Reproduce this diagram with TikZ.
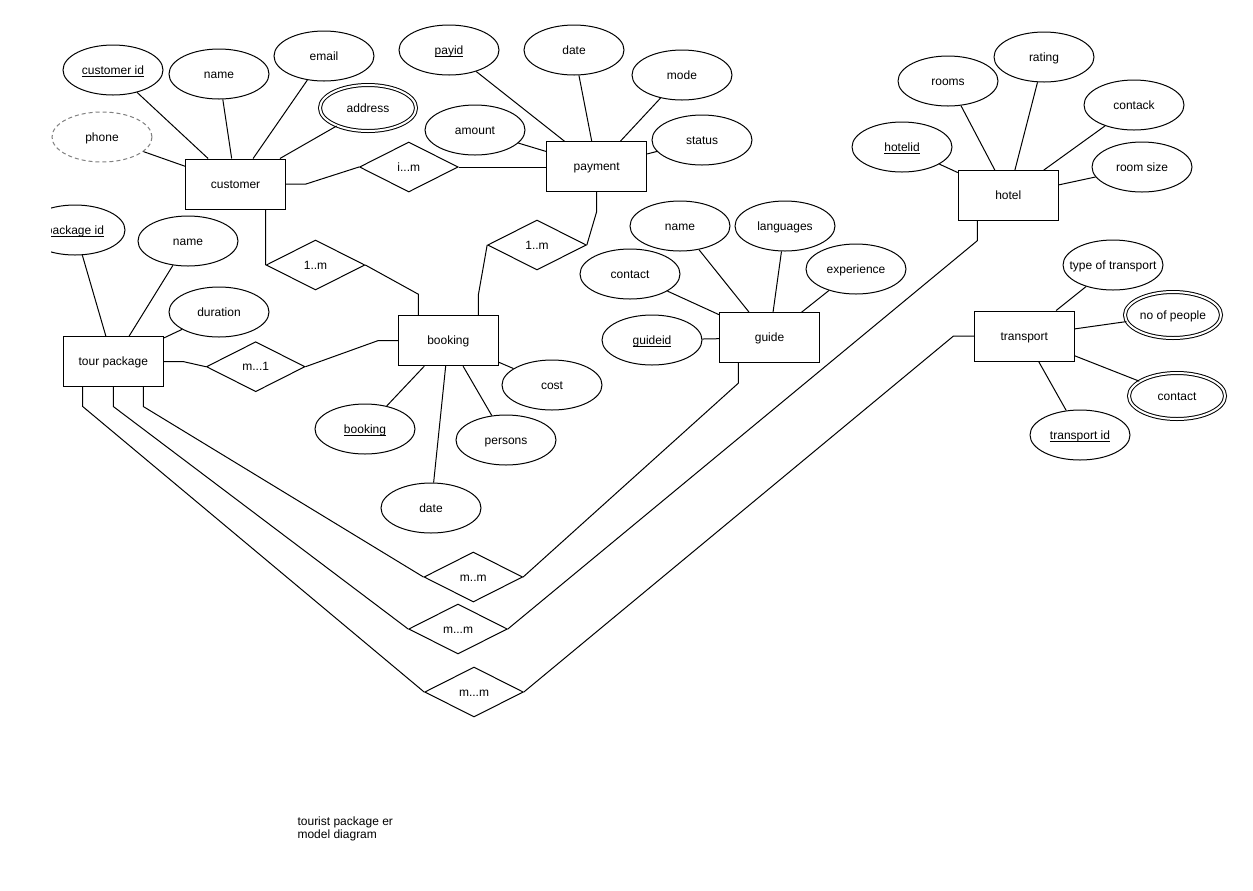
\documentclass[tikz,border=0pt]{standalone}
\usepackage{fontspec}
\setmainfont{Liberation Sans}
\usetikzlibrary{shapes.geometric,calc}
\newcommand\ztext[1]{\makebox[0pt]{#1}}
\newcommand\ulkey[1]{\underline{\smash{#1}}}
\begin{document}
\begin{tikzpicture}[x=0.75pt,y=-0.75pt,
  every node/.style={font=\fontsize{9}{10.5}\selectfont, inner sep=0pt, text=black},
  lbl/.style={text height=7.6pt, text depth=1.4pt},
  conn/.style={draw=black, line width=0.75pt},
  ent/.style={lbl, rectangle, draw=black, line width=0.75pt, minimum width=75pt, minimum height=37.5pt, fill=white},
  attr/.style={lbl, ellipse, draw=black, line width=0.75pt, minimum width=75pt, minimum height=37.5pt},
  mattr/.style={lbl, ellipse, draw=black, line width=0.75pt, double, double distance=1.5pt, minimum width=72pt, minimum height=34.5pt},
  dattr/.style={lbl, ellipse, draw=gray, dash pattern=on 3pt off 2.25pt, line width=0.75pt, minimum width=75pt, minimum height=37.5pt},
  rel/.style={lbl, diamond, draw=black, line width=0.75pt, minimum width=74pt, minimum height=37.5pt},
]
\fill[white] (0,0) rectangle (1253,890);
\useasboundingbox (0,0) rectangle (1253,890);

% entities
\node[ent] (cust) at (235.5,184) {customer};
\node[ent] (pay) at (596.7,166.7) {payment};
\node[ent] (book) at (448.3,340.7) {booking};
\node[ent] (tour) at (113.3,361.7) {tour package};
\node[ent] (guide) at (769.5,337.7) {guide};
\node[ent] (hotel) at (1008.3,195.7) {hotel};
\node[ent] (trans) at (1024.3,336) {transport};

% customer attributes
\node[attr] (cid) at (113,70) {\ztext{\ulkey{customer id}}};
\node[attr] (cname) at (219,74) {\ztext{name}};
\node[attr] (cemail) at (324,56) {\ztext{email}};
\node[mattr] (caddr) at (368,108) {\ztext{address}};
\node[dattr] (cphone) at (102,137) {\ztext{phone}};

% payment attributes
\node[attr] (payid) at (449,50) {\ztext{\ulkey{payid}}};
\node[attr] (pdate) at (574,50) {\ztext{date}};
\node[attr] (pmode) at (682,75) {\ztext{mode}};
\node[attr] (pamount) at (475,130) {\ztext{amount}};
\node[attr] (pstatus) at (702,140) {\ztext{status}};

% hotel attributes
\node[attr] (hid) at (902,147) {\ztext{\ulkey{hotelid}}};
\node[attr] (hrooms) at (948,81) {\ztext{rooms}};
\node[attr] (hrating) at (1044,57) {\ztext{rating}};
\node[attr] (hcont) at (1134,105) {\ztext{contack}};
\node[attr] (hsize) at (1142,167) {\ztext{room size}};

% transport attributes
\node[attr] (ttype) at (1113,265) {\ztext{type of transport}};
\node[mattr] (tpeople) at (1173,315) {\ztext{no of people}};
\node[mattr] (tcont) at (1177,396) {\ztext{contact}};
\node[attr] (tid) at (1080,435) {\ztext{\ulkey{transport id}}};

% guide attributes
\node[attr] (gname) at (680,226) {\ztext{name}};
\node[attr] (glang) at (785,226) {\ztext{languages}};
\node[attr] (gcont) at (630,274) {\ztext{contact}};
\node[attr] (gexp) at (856,269) {\ztext{experience}};
\node[attr] (gid) at (652,340) {\ztext{\ulkey{guideid}}};

% booking attributes
\node[attr] (bid) at (365,429) {\ztext{\ulkey{booking}}};
\node[attr] (bdate) at (431,508) {\ztext{date}};
\node[attr] (bpers) at (506,440) {\ztext{persons}};
\node[attr] (bcost) at (552,385) {\ztext{cost}};

% tour package attributes
\begin{scope}
  \clip (51,195) rectangle (140,265);
  \node[attr] (pkid) at (75,230) {\ztext{\ulkey{package id}}};
\end{scope}
\node[attr] (tname) at (188,241) {\ztext{name}};
\node[attr] (tdur) at (219,312) {\ztext{duration}};

% relationships
\node[rel] (r1) at (408.8,167) {i...m};
\node[rel] (r2) at (537,245) {1..m};
\node[rel] (r3) at (315.5,265) {1..m};
\node[rel] (r4) at (255.7,366.7) {m...1};
\node[rel] (r5) at (473.3,577) {m..m};
\node[rel] (r6) at (458,629) {m...m};
\node[rel] (r7) at (474,692) {m...m};

% attribute connectors
\foreach \a in {cid,cname,cemail,caddr,cphone} \draw[conn] (\a) -- (cust);
\foreach \a in {payid,pdate,pmode,pamount,pstatus} \draw[conn] (\a) -- (pay);
\foreach \a in {hid,hrooms,hrating,hcont,hsize} \draw[conn] (\a) -- (hotel);
\foreach \a in {ttype,tpeople,tcont,tid} \draw[conn] (\a) -- (trans);
\foreach \a in {gname,glang,gcont,gexp,gid} \draw[conn] (\a) -- (guide);
\foreach \a in {bid,bdate,bpers,bcost} \draw[conn] (\a) -- (book);
\foreach \a in {pkid,tname,tdur} \draw[conn] (\a) -- (tour);

% relationship connectors
\draw[conn] (cust.east) -- ++(20,0) -- (r1.west);
\draw[conn] (r1.east) -- (pay.west |- r1.east);
\draw[conn] (pay.south) -- ++(0,19.3) -- (r2.east);
\draw[conn] (r2.west) -- ($(book.north)+(30,-20)$) -- ($(book.north)+(30,0)$);
\draw[conn] ($(cust.south)+(30,0)$) -- (r3.west);
\draw[conn] (r3.east) -- ($(book.north)+(-30,-21)$) -- ($(book.north)+(-30,0)$);
\draw[conn] (tour.east) -- ++(20,0) -- (r4.west);
\draw[conn] (r4.east) -- ($(book.west)+(-20,0)$) -- (book.west);
\draw[conn] ($(guide.south)+(-31.2,0)$) -- ++(0,20) -- (r5.east);
\draw[conn] ($(hotel.south)+(-31,0)$) -- ++(0,19.5) -- (r6.east);
\draw[conn] (trans.west) -- ++(-20.3,0) -- (r7.east);
\draw[conn] ($(tour.south)+(30,0)$) -- ++(0,19.3) -- (r5.west);
\draw[conn] (tour.south) -- ++(0,19.3) -- (r6.west);
\draw[conn] ($(tour.south)+(-30.6,0)$) -- ++(0,19.3) -- (r7.west);

% caption
\node[anchor=north west, align=left, font=\fontsize{9}{9.6}\selectfont] (cap) at (297.3,816.5) {tourist package er\\model diagram};
\end{tikzpicture}
\end{document}
